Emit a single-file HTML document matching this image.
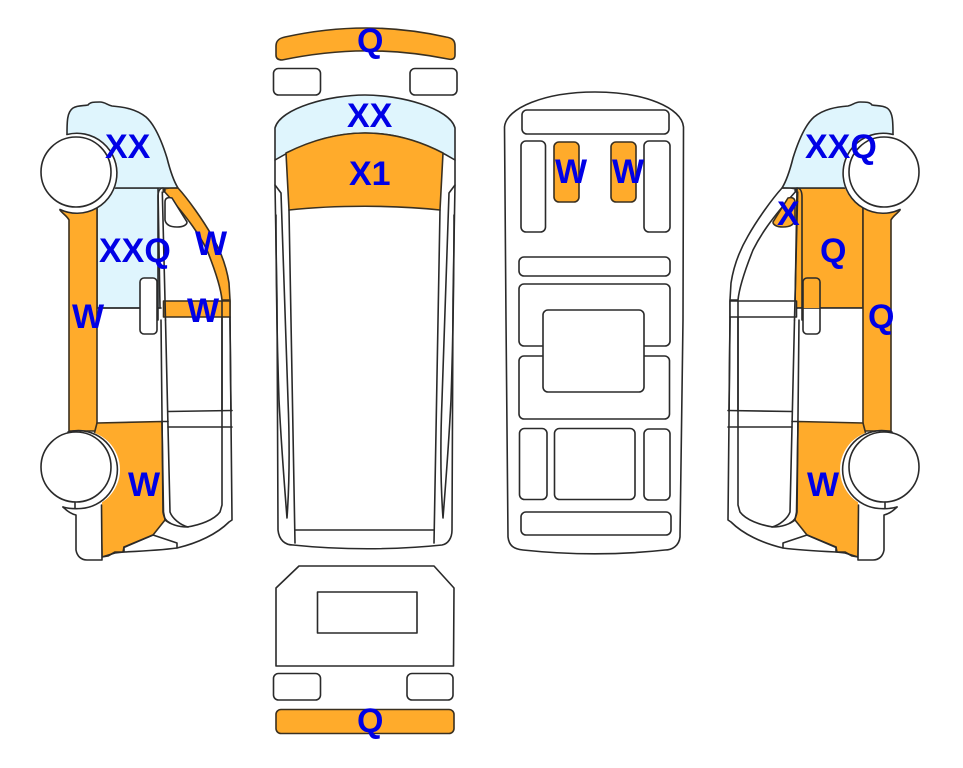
<!DOCTYPE html>
<html>
<head>
<meta charset="utf-8">
<style>
html,body{margin:0;padding:0;background:#fff;width:963px;height:768px;overflow:hidden}
svg{display:block}
.l{fill:none;stroke:#2a2a2a;stroke-width:1.6;stroke-linejoin:round;stroke-linecap:round}
.w{fill:#fff;stroke:#2a2a2a;stroke-width:1.6;stroke-linejoin:round}
.o{fill:#ffab2b;stroke:#3a3020;stroke-width:1.6;stroke-linejoin:round}
.b{fill:#dff5fd;stroke:#2a2a2a;stroke-width:1.6;stroke-linejoin:round}
text{font-family:"Liberation Sans",sans-serif;font-weight:bold;font-size:34px;fill:#0000e6}
</style>
</head>
<body>
<svg width="963" height="768" viewBox="0 0 963 768" xmlns="http://www.w3.org/2000/svg">
<defs>
<g id="sideBody">
  <path class="b" d="M67,134 C67,122 67,112 73,108 C78,105 84,106 88,105 C90,102 94,102 100,102 C105,102 107,105 112,106 C124,107 136,109 146,117 C155,125 162,142 167,158 C170,170 173,180 178,188 L100,188 L67,150 Z"/>
  <path class="o" d="M60,210 C63,214 67,216 69,220 L69,431 L97,431 L97,200 Z"/>
  <path class="o" d="M97,423 L162,421.5 L163.5,512 L165,520 L153,535 L124,547 L123,552 L115,552 L108,556 L102,557 L101,505 L90,450 Z"/>
  <path class="l" d="M102,557 L115,553 L124,552 C145,551 162,550 177,548 C198,543 217,534 229,522 L232,520 L230,320 L230,300"/>
  <path class="l" d="M125,547 L153,535 L177,543 L177,548 M124,547 L124,552"/>
  <path class="l" d="M165,520 C170,524 178,527 187,527 C200,525 214,520 220,512 L222,505 L222,320 L222,301"/>
  <path class="l" d="M161,320 L163,512 C164,518 166,521 170,523"/>
  <path class="l" d="M165.500,320 L170,512 C172,518 180,525 188,527"/>
  <path class="l" d="M168,411.500 L232,410.500 M168,427 L232,427"/>
</g>
<g id="sideTop">
  <path class="l" d="M158,320 L158,197 C158,191 160,188 163,188 C165,188 166,192 163,192"/>
  <path class="l" d="M162.300,192 L165.500,320"/>
  <path class="l" d="M162,421.500 L168,421.500"/>
</g>
<g id="wheels">
  <circle cx="78" cy="173" r="40" fill="#fff"/>
  <path class="l" d="M67,134.500 A40,40 0 1 1 60,209.500"/>
  <circle class="w" cx="76" cy="172" r="35"/>
  <circle cx="81" cy="469.500" r="39" fill="#fff"/>
  <path fill="#fff" stroke="none" d="M63,507 L76,515 L76,550 C77,556 81,560 87,560 L102,560 L102,500 Z"/>
  <path class="l" d="M63,507 C67,511 71,514 76,515 L76,550 C77,556 81,560 87,560 L102,560 L101.500,505"/>
  <path class="l" d="M68,432 A39,39 0 1 1 81,508.500 C74,509 68,508.500 63,507"/>
  <circle class="w" cx="76" cy="467" r="35"/>
  <path class="l" d="M75,502 L75,508"/>
</g>
<g id="sliver">
  <path class="l" d="M275,160 L275,185 L281,193 C282,240 284,300 288,400 C290,450 289,490 287,518 C284,480 281,440 279,400 C277,340 276,280 276,215"/>
</g>
</defs>

<!-- LEFT VIEW -->
<path class="b" d="M97,188 L158,188 L160,308 L97,308 Z"/>
<path class="l" d="M97,308 L161,308"/>
<use href="#sideBody"/>
<path class="o" d="M163,190 C165,188 170,188 178,188 C188,199 203,220 212,236 C222,253 227,270 229,283 L230,300 L222,300 C221,290 217,275 207,250 C200,236 190,220 163,190 Z"/>
<rect class="o" x="163.500" y="301" width="66.500" height="16"/>
<path class="l" d="M222,317 L222,301"/>
<path class="w" d="M165,202 L165,220 C166,225 171,227 177,227 C183,227 187,225 187,222 L172,198 C168,197 165,198 165,202 Z"/>
<rect class="w" x="140" y="278" width="17" height="56" rx="4"/>
<path class="l" d="M230,317 L231,411 M222,317 L222,411"/>
<use href="#sideTop"/>
<use href="#wheels"/>

<!-- RIGHT VIEW -->
<g transform="translate(960,0) scale(-1,1)">
  <path class="o" d="M97,188 L163,188 L165,308 L97,308 Z"/>
  <rect x="97" y="308.700" width="65" height="112" fill="#fff"/>
  <path class="l" d="M97,308 L165,308"/>
  <use href="#sideBody"/>
  <path class="w" d="M163,190 C165,188 170,188 178,188 C188,199 203,220 212,236 C222,253 227,270 229,283 L230,300 L222,300 C221,290 217,275 207,250 C200,236 190,220 163,190 Z"/>
  <rect class="w" x="163.500" y="301" width="66.500" height="16"/>
  <path class="l" d="M222,317 L222,301"/>
  <path class="o" d="M165,202 L165,220 C166,225 171,227 177,227 C183,227 187,225 187,222 L172,198 C168,197 165,198 165,202 Z"/>
  <path fill="#ffab2b" stroke="none" d="M140,282 Q140,278 144,278 L153,278 Q157,278 157,282 L157,308 L140,308 Z"/>
  <rect class="l" x="140" y="278" width="17" height="56" rx="4"/>
  <path class="l" d="M230,317 L231,411 M222,317 L222,411"/>
  <use href="#sideTop"/>
  <use href="#wheels"/>
</g>

<!-- TOP VIEW -->
<path class="o" d="M276,46 C276,40 280,38 285,37 C340,25 392,25 446,37 C452,38 455,40 455,46 L455,55 C455,59 452,60 448,59 C392,48 340,48 282,60 C279,60 276,59 276,55 Z"/>
<rect class="w" x="273.500" y="68.500" width="47" height="26.500" rx="5"/>
<rect class="w" x="410" y="68.500" width="47" height="26.500" rx="5"/>
<path class="l" d="M275,185 L277,300 L278,530 C279,540 285,545 293,545 C340,550 395,550 442,545 C448,544 452,538 452,530 L453,300 L455,185"/>
<use href="#sliver"/>
<use href="#sliver" transform="translate(730,0) scale(-1,1)"/>
<path class="b" d="M275,160 L275,128 C280,108 330,95 365,95 C400,95 450,108 455,128 L455,160 C425,142 395,133 365,133 C335,133 305,142 275,160 Z"/>
<path class="o" d="M286,153 C312,140 338,133 365,133 C392,133 418,140 443,153 L440,210 C395,205 335,205 289,210 Z"/>
<path class="l" d="M289,210 L295,543 M440,210 L434,543 M295,530 L434,530"/>

<!-- REAR VIEW -->
<path class="w" d="M299,566 L434,566 L454,588 L453.500,666 L276,666 L276,588 Z"/>
<rect class="w" x="317.500" y="592" width="99.500" height="41"/>
<rect class="w" x="273.500" y="673.500" width="47" height="26.500" rx="5"/>
<rect class="w" x="407" y="673.500" width="46" height="26.500" rx="5"/>
<rect class="o" x="276" y="709.500" width="178" height="24" rx="5"/>

<!-- PLAN VIEW -->
<path class="w" d="M504.500,127 C506,108 545,92 595,92 C645,92 682,108 683.500,127 L683,320 L680,537 C679,546 672,550 665,550 C620,555 570,555 523,550 C514,549 509,546 508,537 L506,320 Z"/>
<rect class="w" x="522" y="110" width="147" height="24" rx="5"/>
<rect class="w" x="521" y="141" width="24.500" height="91" rx="5"/>
<rect class="o" x="554" y="142" width="25" height="60" rx="5"/>
<rect class="o" x="611" y="142" width="25" height="60" rx="5"/>
<rect class="w" x="644" y="141" width="26" height="91" rx="5"/>
<rect class="w" x="519" y="257" width="151" height="19" rx="5"/>
<rect class="w" x="519" y="284" width="151" height="62" rx="5"/>
<rect class="w" x="519" y="356" width="150.500" height="63" rx="5"/>
<rect class="w" x="543" y="310" width="101" height="82" rx="5"/>
<rect class="w" x="519.500" y="428.500" width="27.500" height="71" rx="5"/>
<rect class="w" x="554.500" y="428.500" width="80.500" height="71" rx="5"/>
<rect class="w" x="644" y="429" width="26" height="71" rx="5"/>
<rect class="w" x="521" y="512" width="150" height="23" rx="5"/>

<!-- LABELS -->
<text x="105" y="158">XX</text>
<text x="99" y="262">XXQ</text>
<text x="195" y="255">W</text>
<text x="187" y="322">W</text>
<text x="72" y="328">W</text>
<text x="128" y="496">W</text>
<text x="357" y="52">Q</text>
<text x="347" y="127">XX</text>
<text x="349" y="185">X1</text>
<text x="357" y="732">Q</text>
<text x="555" y="183">W</text>
<text x="612" y="183">W</text>
<text x="805" y="158">XXQ</text>
<text x="777" y="225">X</text>
<text x="820" y="262">Q</text>
<text x="868" y="328">Q</text>
<text x="807" y="496">W</text>
</svg>
</body>
</html>
